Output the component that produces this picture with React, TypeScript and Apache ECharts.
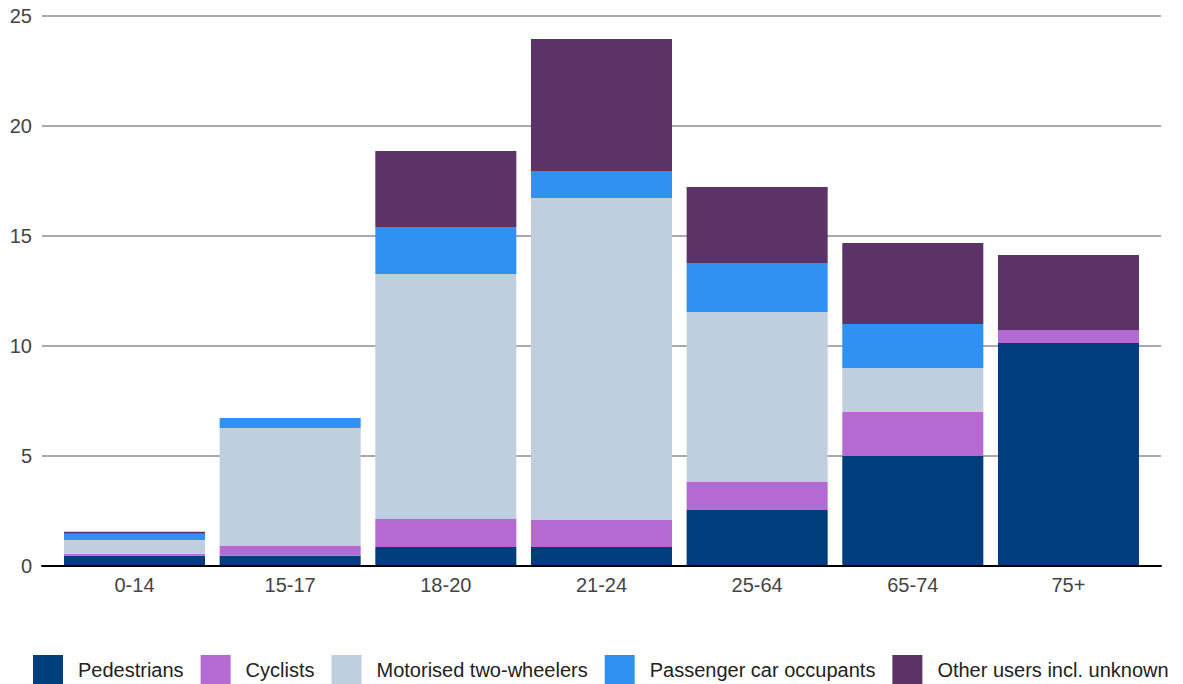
import React, { useEffect, useRef } from "react";
import * as echarts from "echarts";

const categories = ["0-14", "15-17", "18-20", "21-24", "25-64", "65-74", "75+"];
const pedestrians = [0.47, 0.47, 0.86, 0.86, 2.55, 5.0, 10.14];
const cyclists = [0.09, 0.44, 1.28, 1.23, 1.27, 2.0, 0.59];
const motorised = [0.62, 5.36, 11.13, 14.64, 7.73, 2.0, 0];
const passenger = [0.29, 0.46, 2.14, 1.22, 2.22, 2.0, 0];
const otherUsers = [0.09, 0, 3.45, 6.0, 3.46, 3.68, 3.41];
const seriesNames = [
  "Pedestrians",
  "Cyclists",
  "Motorised two-wheelers",
  "Passenger car occupants",
  "Other users incl. unknown",
];
const colors = ["#003D7D", "#B469D3", "#BFCFDF", "#3091F2", "#5B3366"];

export default function App() {
  const ref = useRef<HTMLDivElement>(null);
  useEffect(() => {
    if (!ref.current) return;
    const chart = echarts.init(ref.current, null, { renderer: "svg" });
    const values = [pedestrians, cyclists, motorised, passenger, otherUsers];
    const font = "'Liberation Sans', Arial, sans-serif";
    chart.setOption({
      animation: false,
      color: colors,
      textStyle: { fontFamily: font },
      legend: {
        left: 33,
        top: 655,
        padding: 0,
        width: 3000,
        itemWidth: 30,
        itemHeight: 30,
        itemGap: 17,
        icon: "rect",
        selectedMode: false,
        textStyle: { fontSize: 20, color: "#222", fontFamily: font, padding: [0, 0, 0, 10] },
        data: seriesNames,
      },
      grid: [
        { left: 42, right: 22, top: 16, bottom: 118 },
        { left: 56.67, right: 36.7, top: 16, bottom: 118 },
      ],
      xAxis: [
        {
          type: "value",
          gridIndex: 0,
          min: 0,
          max: 1,
          z: 5,
          axisLine: { show: true, lineStyle: { color: "#000", width: 2 } },
          axisTick: { show: false },
          axisLabel: { show: false },
          splitLine: { show: false },
        },
        {
          type: "category",
          gridIndex: 1,
          data: categories,
          axisLine: { show: false },
          axisTick: { show: false },
          axisLabel: { fontSize: 20, color: "#444", margin: 9, fontFamily: font },
        },
      ],
      yAxis: [
        {
          type: "value",
          gridIndex: 0,
          min: 0,
          max: 25,
          interval: 5,
          axisLine: { show: false },
          axisTick: { show: false },
          axisLabel: { fontSize: 20, color: "#444", margin: 10, fontFamily: font },
          splitLine: { lineStyle: { color: "#aaaaaa", width: 2 } },
        },
        {
          type: "value",
          gridIndex: 1,
          min: 0,
          max: 25,
          show: false,
          splitLine: { show: false },
        },
      ],
      series: seriesNames.map((name, i) => ({
        name,
        type: "bar",
        stack: "total",
        xAxisIndex: 1,
        yAxisIndex: 1,
        barCategoryGap: "9.4%",
        data: values[i],
        itemStyle: { color: colors[i] },
      })),
    });
    return () => chart.dispose();
  }, []);
  return (
    <div
      ref={ref}
      style={{ position: "fixed", left: 0, top: 0, width: 1183, height: 684, background: "#fff" }}
    />
  );
}
